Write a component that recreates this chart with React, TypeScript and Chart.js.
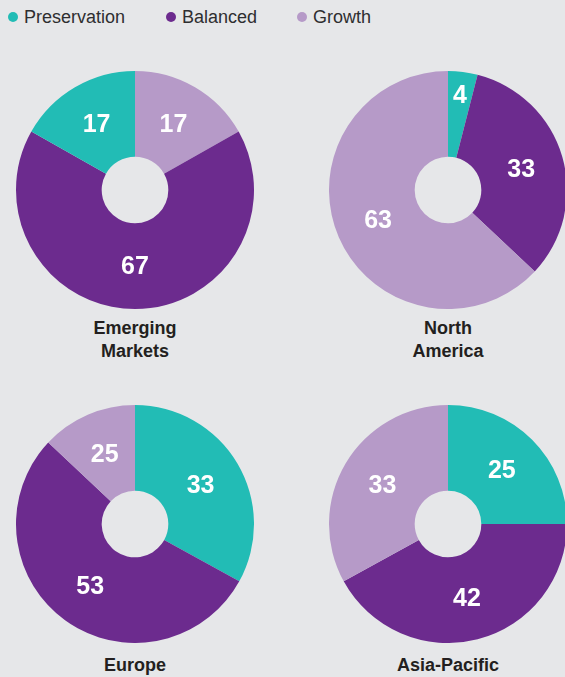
import { useEffect, useRef } from "react";
import { Chart, registerables } from "chart.js";

Chart.register(...registerables);

// ---- data ----
const regionNames = ["Emerging Markets", "North America", "Europe", "Asia-Pacific"];
const regionLines = [["Emerging", "Markets"], ["North", "America"], ["Europe"], ["Asia-Pacific"]];
const seriesNames = ["Preservation", "Balanced", "Growth"];
const seriesColors = ["#22BCB5", "#6C2B8E", "#B69AC8"];
// slice sizes as drawn
const preservation = [17, 4, 33, 25];
const balanced = [67, 33, 54, 42];
const growth = [17, 63, 13, 33];
// printed numbers
const preservationLabels = ["17", "4", "33", "25"];
const balancedLabels = ["67", "33", "53", "42"];
const growthLabels = ["17", "63", "25", "33"];
// clockwise order of slices from 12 o'clock (0 = preservation, 1 = balanced, 2 = growth)
const sliceOrder = [[2, 1, 0], [0, 1, 2], [0, 1, 2], [0, 1, 2]];

// ---- layout ----
const CENTERS = [[135, 190], [448, 190], [135, 524], [448, 524]];
const RADIUS = 119;
const NAME_TOPS = [317, 317, 654, 654];
const FONT = "'Liberation Sans', Arial, Helvetica, sans-serif";

const sliceLabelPlugin = {
  id: "sliceLabels",
  afterDatasetsDraw(chart: any, _args: any, opts: any) {
    const meta = chart.getDatasetMeta(0);
    const ctx = chart.ctx;
    ctx.save();
    ctx.font = `bold 25px ${FONT}`;
    ctx.fillStyle = "#ffffff";
    ctx.textAlign = "center";
    ctx.textBaseline = "middle";
    meta.data.forEach((arc: any, i: number) => {
      const p = arc.getProps(["startAngle", "endAngle", "innerRadius", "outerRadius", "x", "y"], true);
      const mid = (p.startAngle + p.endAngle) / 2;
      const span = p.endAngle - p.startAngle;
      const r = span < 0.5 ? p.outerRadius * 0.8 : (p.innerRadius + p.outerRadius) / 2;
      ctx.fillText(opts.labels[i], p.x + Math.cos(mid) * r, p.y + Math.sin(mid) * r + 1);
    });
    ctx.restore();
  },
};

function Donut({ idx }: { idx: number }) {
  const ref = useRef<HTMLCanvasElement | null>(null);
  useEffect(() => {
    if (!ref.current) return;
    const values = [preservation[idx], balanced[idx], growth[idx]];
    const printed = [preservationLabels[idx], balancedLabels[idx], growthLabels[idx]];
    const order = sliceOrder[idx];
    const chart = new Chart(ref.current, {
      type: "doughnut",
      data: {
        labels: order.map((s) => seriesNames[s]),
        datasets: [
          {
            data: order.map((s) => values[s]),
            backgroundColor: order.map((s) => seriesColors[s]),
            borderWidth: 0,
          },
        ],
      },
      options: {
        responsive: false,
        animation: false,
        cutout: "28%",
        layout: { padding: 0 },
        plugins: {
          legend: { display: false },
          tooltip: { enabled: false },
          sliceLabels: { labels: order.map((s) => printed[s]) },
        } as any,
      },
      plugins: [sliceLabelPlugin],
    });
    return () => chart.destroy();
  }, [idx]);
  const [cx, cy] = CENTERS[idx];
  return (
    <canvas
      ref={ref}
      width={RADIUS * 2}
      height={RADIUS * 2}
      style={{ position: "absolute", left: cx - RADIUS, top: cy - RADIUS, width: RADIUS * 2, height: RADIUS * 2 }}
    />
  );
}

const LEGEND_X = [13, 171, 302];

export default function App() {
  return (
    <div
      style={{
        position: "fixed",
        left: 0,
        top: 0,
        width: 565,
        height: 677,
        overflow: "hidden",
        background: "#E6E7E9",
        fontFamily: FONT,
      }}
    >
      {seriesNames.map((name, i) => (
        <div key={name}>
          <div
            style={{
              position: "absolute",
              left: LEGEND_X[i] - 5,
              top: 12,
              width: 10,
              height: 10,
              borderRadius: "50%",
              background: seriesColors[i],
            }}
          />
          <div
            style={{
              position: "absolute",
              left: LEGEND_X[i] + 11,
              top: 7,
              fontSize: 18,
              lineHeight: "20px",
              color: "#2E2E30",
              whiteSpace: "nowrap",
            }}
          >
            {name}
          </div>
        </div>
      ))}
      {regionNames.map((name, i) => (
        <div key={name}>
          <Donut idx={i} />
          <div
            style={{
              position: "absolute",
              left: CENTERS[i][0] - 100,
              width: 200,
              top: NAME_TOPS[i],
              textAlign: "center",
              fontWeight: "bold",
              fontSize: 18,
              lineHeight: "23px",
              color: "#231F20",
            }}
          >
            {regionLines[i].map((l) => (
              <div key={l}>{l}</div>
            ))}
          </div>
        </div>
      ))}
    </div>
  );
}
